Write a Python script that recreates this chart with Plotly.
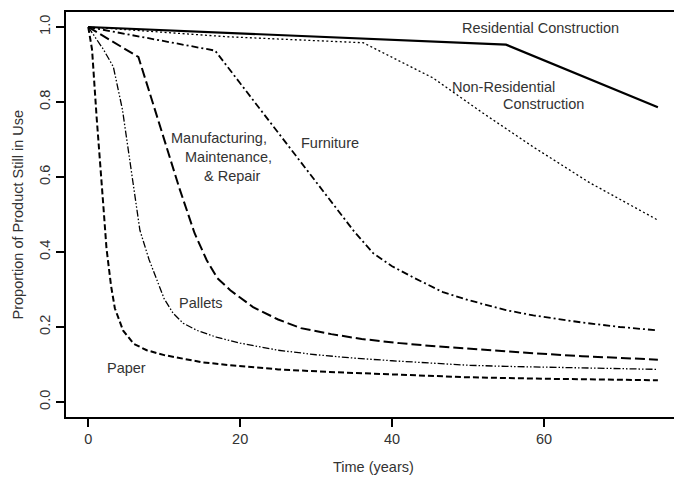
import plotly.graph_objects as go

# ---- data ----
res_x = [0, 55, 75]
res_y = [1.0, 0.953, 0.786]

nonres_x = [0, 18.3, 36.2, 38.8, 45.4, 52, 58.6, 66, 75]
nonres_y = [1.0, 0.974, 0.958, 0.931, 0.864, 0.77, 0.68, 0.585, 0.485]

furn_x = [0, 16.7, 20, 24, 28, 32, 35, 37.5, 40, 43, 46.7, 50, 55, 58.6, 65, 70, 75]
furn_y = [1.0, 0.937, 0.85, 0.745, 0.637, 0.532, 0.455, 0.397, 0.362, 0.33, 0.293,
          0.272, 0.245, 0.231, 0.212, 0.2, 0.191]

manu_x = [0, 6.6, 8, 10, 12, 14, 15.6, 17, 18.7, 21.7, 25, 28, 32, 36, 41, 46, 52, 58.6, 65, 70, 75]
manu_y = [1.0, 0.92, 0.83, 0.70, 0.57, 0.45, 0.378, 0.33, 0.298, 0.253, 0.22, 0.197,
          0.181, 0.168, 0.157, 0.148, 0.139, 0.130, 0.122, 0.117, 0.113]

pall_x = [0, 1, 2, 3.3, 4.5, 5.5, 6.8, 8, 9, 10, 11.2, 12.5, 14.3, 17, 20, 25, 30, 35,
          40, 45, 50, 55, 60, 65, 70, 75]
pall_y = [1.0, 0.97, 0.94, 0.894, 0.78, 0.64, 0.458, 0.38, 0.325, 0.275, 0.236, 0.21,
          0.191, 0.172, 0.157, 0.138, 0.126, 0.117, 0.110, 0.104, 0.098, 0.095, 0.093,
          0.091, 0.089, 0.087]

paper_x = [0, 0.5, 1.1, 1.5, 2, 2.4, 3, 3.5, 4.6, 6, 7.7, 10, 12.1, 15, 18.7, 25, 31.8,
           40, 49.8, 60, 75]
paper_y = [1.0, 0.94, 0.76, 0.66, 0.52, 0.41, 0.31, 0.25, 0.19, 0.155, 0.138, 0.125,
           0.117, 0.106, 0.098, 0.087, 0.080, 0.073, 0.066, 0.062, 0.058]

x_ticks = [0, 20, 40, 60]
y_ticks = [0.0, 0.2, 0.4, 0.6, 0.8, 1.0]
y_ticklabels = ["0.0", "0.2", "0.4", "0.6", "0.8", "1.0"]

labels = [
    ("Residential Construction", 59.6, 0.998),
    ("Non-Residential", 54.7, 0.841),
    ("Construction", 59.9, 0.795),
    ("Furniture", 31.8, 0.691),
    ("Manufacturing,", 17.2, 0.704),
    ("Maintenance,", 18.4, 0.653),
    ("& Repair", 19.0, 0.603),
    ("Pallets", 14.9, 0.264),
    ("Paper", 5.0, 0.09),
]

FONT = "Liberation Sans, Arial, sans-serif"
TXT = "#333333"
FS = 14.5

series = [
    (res_x, res_y, "solid", 2.2),
    (nonres_x, nonres_y, "2px,2.5px", 1.3),
    (furn_x, furn_y, "7px,3px,2px,3px", 1.8),
    (manu_x, manu_y, "10px,4px", 2.0),
    (pall_x, pall_y, "7px,2px,1.5px,2px,1.5px,2px", 1.3),
    (paper_x, paper_y, "6px,3px", 2.0),
]

fig = go.Figure()
for xs, ys, dash, w in series:
    fig.add_trace(go.Scatter(x=xs, y=ys, mode="lines",
                             line=dict(color="black", width=w, dash=dash),
                             showlegend=False, hoverinfo="skip"))

for text, x, y in labels:
    fig.add_annotation(x=x, y=y, text=text, showarrow=False,
                       xanchor="center", yanchor="middle",
                       font=dict(family=FONT, size=FS, color=TXT))

# axis titles
fig.add_annotation(xref="paper", yref="paper", x=0, y=0.5, xshift=-49,
                   text="Proportion of Product Still in Use", textangle=-90,
                   showarrow=False, xanchor="center", yanchor="middle",
                   font=dict(family=FONT, size=FS, color=TXT))
fig.add_annotation(xref="x", yref="paper", x=37.5, y=0, yshift=-50,
                   text="Time (years)", showarrow=False,
                   xanchor="center", yanchor="middle",
                   font=dict(family=FONT, size=FS, color=TXT))

fig.update_layout(
    width=674, height=480,
    margin=dict(l=66, r=0, t=12, b=63),
    plot_bgcolor="white", paper_bgcolor="white",
    xaxis=dict(range=[-2.93, 77.12], tickvals=x_ticks, ticks="outside", ticklen=8,
               tickwidth=1.5, tickcolor="black", showgrid=False, zeroline=False,
               showline=True, linecolor="black", linewidth=2, mirror=True,
               tickfont=dict(family=FONT, size=FS, color=TXT)),
    yaxis=dict(range=[-0.04, 1.04], tickvals=y_ticks, ticktext=y_ticklabels,
               ticks="outside", ticklen=8, tickwidth=1.5, tickcolor="black",
               showgrid=False, zeroline=False, showline=True, linecolor="black",
               linewidth=2, mirror=False, tickangle=-90,
               tickfont=dict(family=FONT, size=FS, color=TXT)),
)

fig.write_html("out.html")
